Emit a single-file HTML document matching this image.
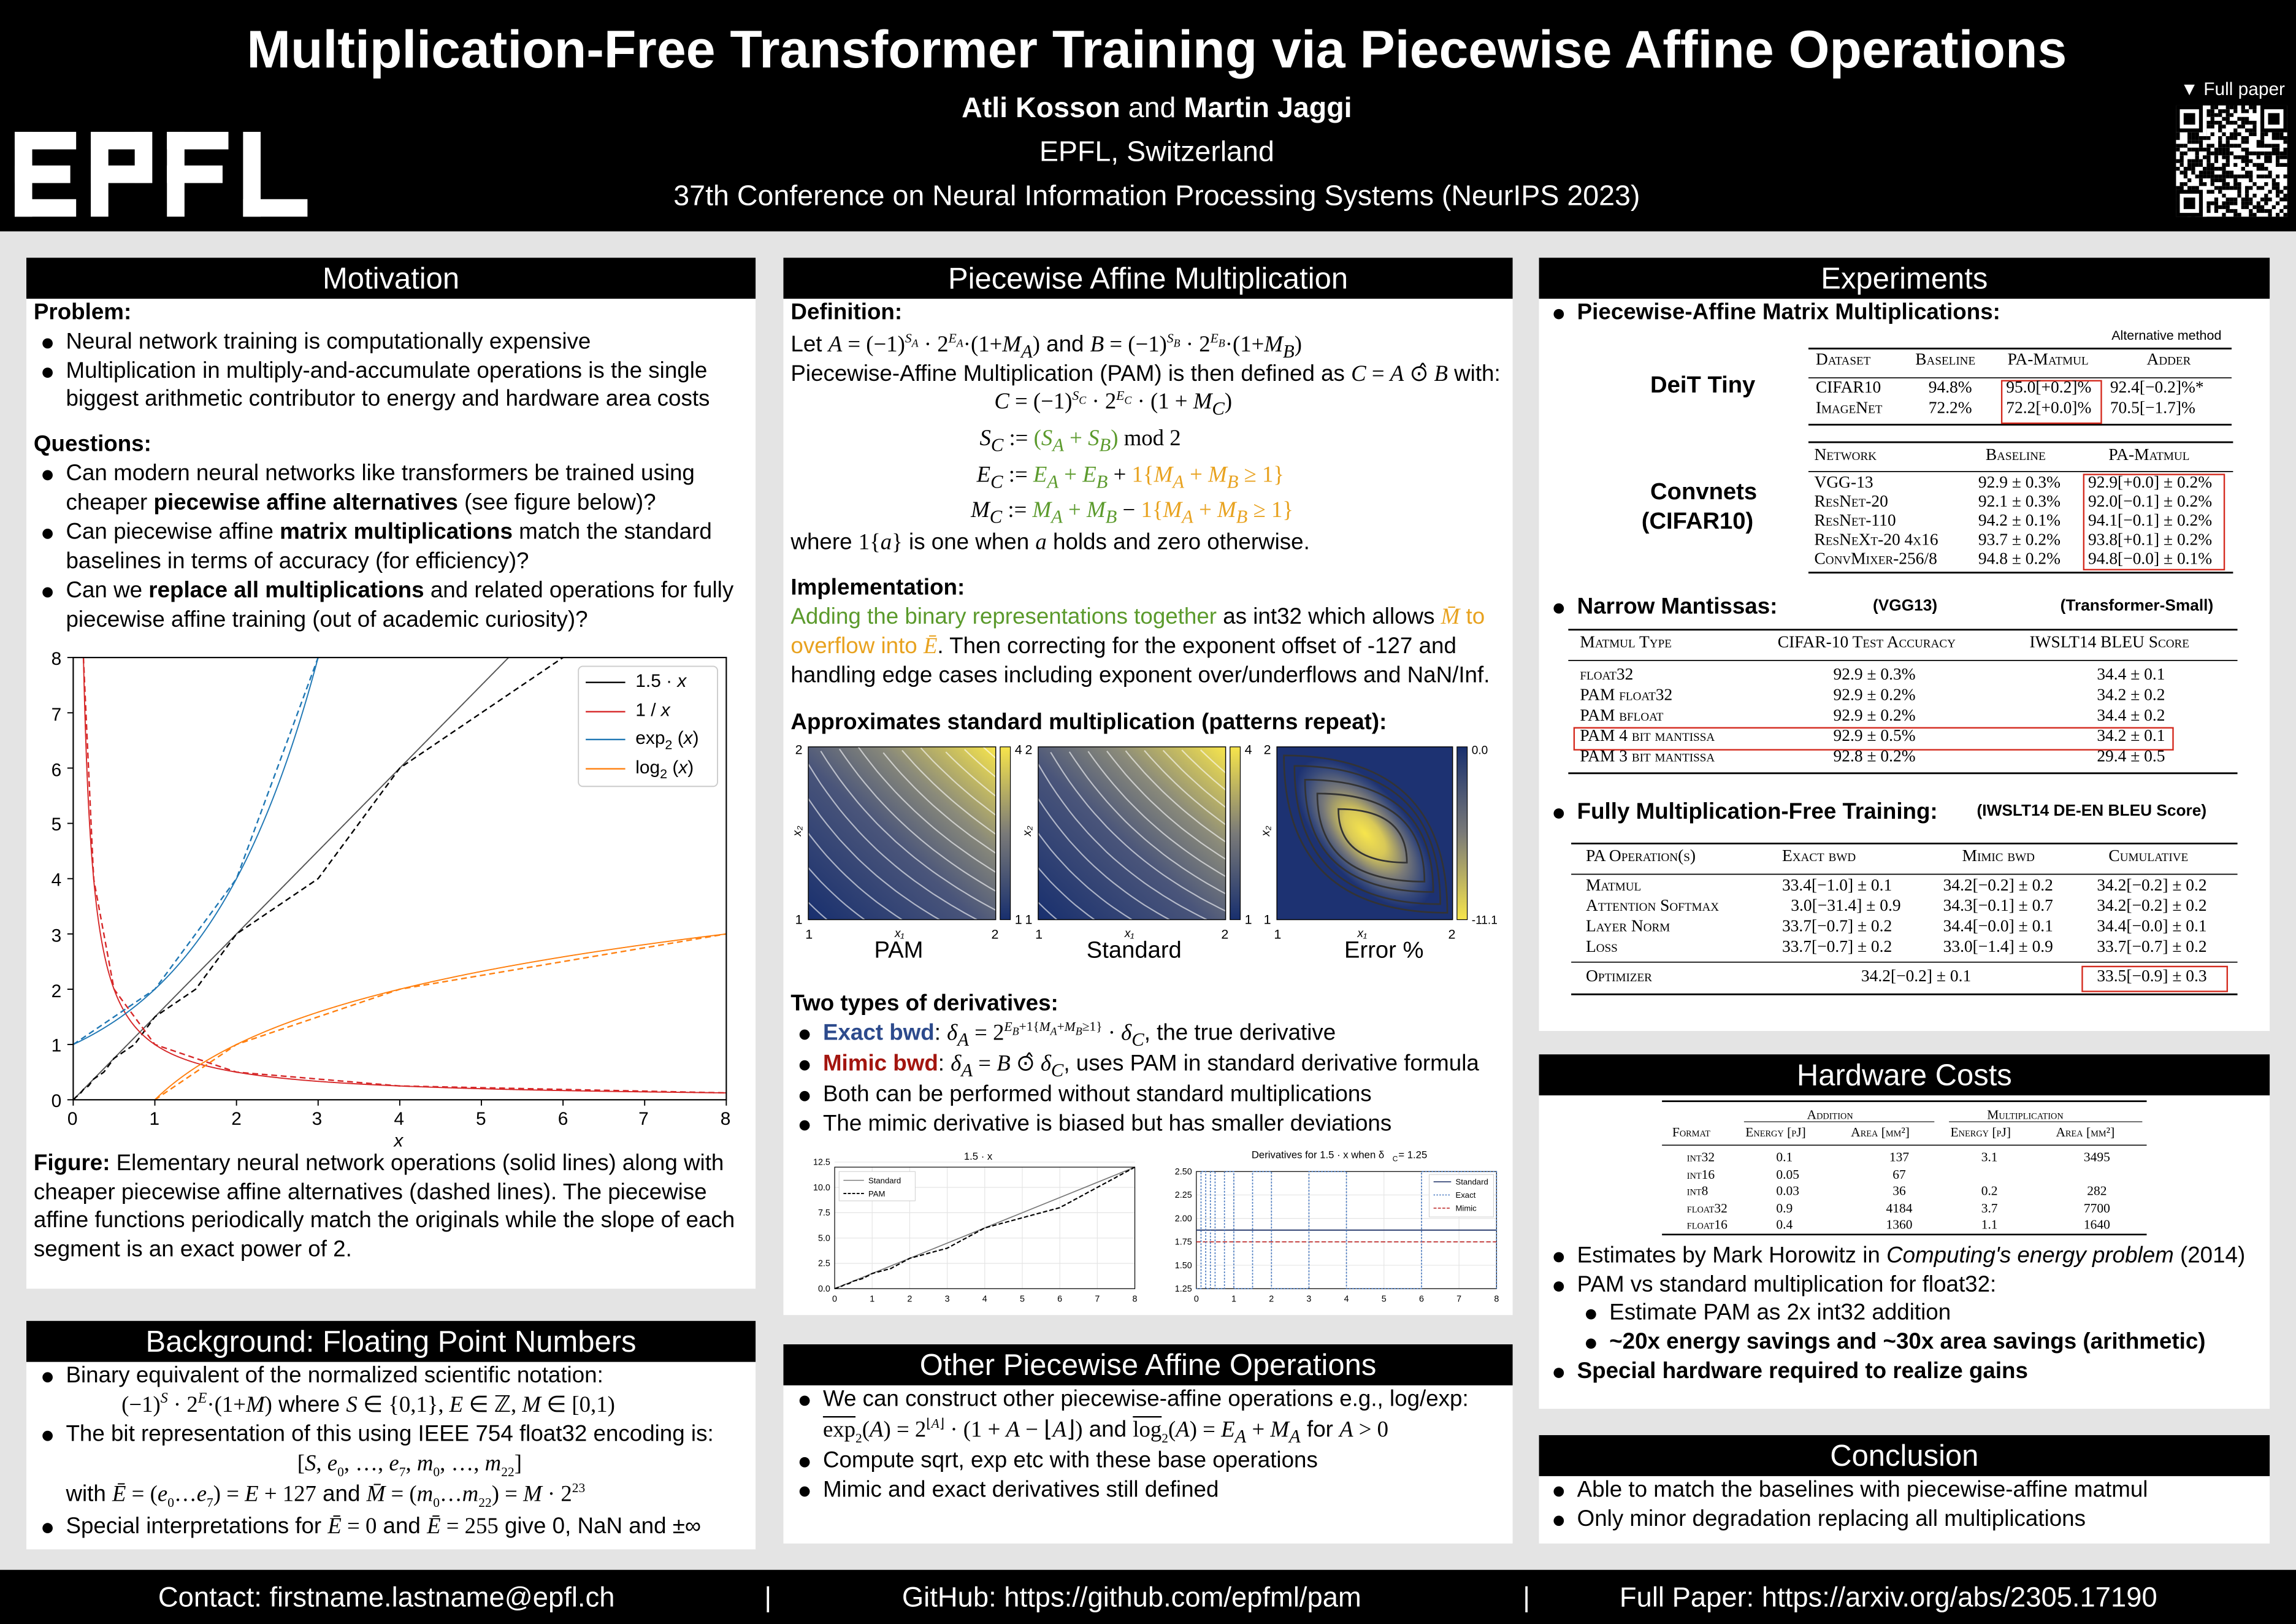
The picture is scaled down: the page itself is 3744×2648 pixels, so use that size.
<!DOCTYPE html>
<html><head><meta charset="utf-8">
<style>
html,body{margin:0;padding:0;}
body{width:3744px;height:2648px;overflow:hidden;background:#e4e4e4;}
#s{position:absolute;left:0;top:0;width:1568px;height:1109px;transform:scale(2.3878);transform-origin:0 0;font-family:"Liberation Sans",Arial,sans-serif;color:#000;}
.a{position:absolute;white-space:nowrap;}
.p{position:absolute;background:#fff;}
.h{position:absolute;left:0;right:0;top:0;height:28px;background:#000;color:#fff;font-size:20.5px;text-align:center;line-height:29px;}
.t{font-size:15.4px;line-height:20px;}
.b{font-weight:bold;}
.bl::before{content:"";position:absolute;left:-16px;top:7px;width:7px;height:7px;border-radius:50%;background:#000;}
.m{font-family:"Liberation Serif",serif;}
.i{font-style:italic;}
.sc{font-family:"Liberation Serif",serif;font-variant:small-caps;font-size:11.5px;}
.tn{font-family:"Liberation Serif",serif;font-size:11.5px;}
.g{color:#5b9a2c;}
.o{color:#e8a21f;}
.tk{font-size:12.5px;}
sup,sub{line-height:0;}
</style></head><body>
<div id="s">
<!-- header -->
<div class="a" style="left:0;top:0;width:1568px;height:158px;background:#000;"></div>
<div class="a b" style="left:0;width:1580px;top:13px;text-align:center;color:#fff;font-size:36px;">Multiplication-Free Transformer Training via Piecewise Affine Operations</div>
<div class="a" style="left:0;width:1580px;top:63px;text-align:center;color:#fff;font-size:19.5px;"><b>Atli Kosson</b> and <b>Martin Jaggi</b></div>
<div class="a" style="left:0;width:1580px;top:93px;text-align:center;color:#fff;font-size:19.5px;">EPFL, Switzerland</div>
<div class="a" style="left:0;width:1580px;top:123px;text-align:center;color:#fff;font-size:19.5px;">37th Conference on Neural Information Processing Systems (NeurIPS 2023)</div>
<svg class="a" style="left:10px;top:90px" width="200" height="58" viewBox="0 0 200 58">
<g fill="#fff">
<rect x="0" y="0" width="42" height="12"/><rect x="0" y="0" width="12" height="58"/><rect x="0" y="23" width="38" height="12"/><rect x="0" y="46" width="42" height="12"/>
<rect x="52" y="0" width="12" height="58"/><rect x="52" y="0" width="40" height="12"/><rect x="52" y="23" width="40" height="12"/><rect x="82" y="0" width="12" height="35"/>
<rect x="104" y="0" width="12" height="58"/><rect x="104" y="0" width="42" height="12"/><rect x="104" y="23" width="38" height="12"/>
<rect x="156" y="0" width="12" height="58"/><rect x="156" y="46" width="44" height="12"/>
</g></svg>
<div class="a" style="left:1489px;top:54px;color:#fff;font-size:12.5px;">▼ Full paper</div>
<svg class="a" id="qr" style="left:1486px;top:72px" width="76" height="76" viewBox="0 0 29 29"></svg>

<!-- footer -->
<div class="a" style="left:0;top:1072px;width:1568px;height:37px;background:#000;"></div>
<div class="a" style="left:108px;top:1081px;color:#fff;font-size:19px;">Contact: firstname.lastname@epfl.ch</div>
<div class="a" style="left:522px;top:1081px;color:#fff;font-size:19px;">|</div>
<div class="a" style="left:616px;top:1081px;color:#fff;font-size:19px;">GitHub: https://github.com/epfml/pam</div>
<div class="a" style="left:1040px;top:1081px;color:#fff;font-size:19px;">|</div>
<div class="a" style="left:1106px;top:1081px;color:#fff;font-size:19px;">Full Paper: https://arxiv.org/abs/2305.17190</div>

<!-- Motivation -->
<div class="p" style="left:18px;top:176px;width:498px;height:704px;">
<div class="h">Motivation</div>
<div class="a t b" style="left:5px;top:28px;">Problem:</div>
<div class="a t bl" style="left:27px;top:48px;">Neural network training is computationally expensive</div>
<div class="a t bl" style="left:27px;top:68px;">Multiplication in multiply-and-accumulate operations is the single</div>
<div class="a t" style="left:27px;top:87px;">biggest arithmetic contributor to energy and hardware area costs</div>
<div class="a t b" style="left:5px;top:118px;">Questions:</div>
<div class="a t bl" style="left:27px;top:138px;">Can modern neural networks like transformers be trained using</div>
<div class="a t" style="left:27px;top:158px;">cheaper <b>piecewise affine alternatives</b> (see figure below)?</div>
<div class="a t bl" style="left:27px;top:178px;">Can piecewise affine <b>matrix multiplications</b> match the standard</div>
<div class="a t" style="left:27px;top:198px;">baselines in terms of accuracy (for efficiency)?</div>
<div class="a t bl" style="left:27px;top:218px;">Can we <b>replace all multiplications</b> and related operations for fully</div>
<div class="a t" style="left:27px;top:238px;">piecewise affine training (out of academic curiosity)?</div>
<div class="a t" style="left:5px;top:609px;"><b>Figure:</b> Elementary neural network operations (solid lines) along with</div>
<div class="a t" style="left:5px;top:629px;">cheaper piecewise affine alternatives (dashed lines). The piecewise</div>
<div class="a t" style="left:5px;top:648px;">affine functions periodically match the originals while the slope of each</div>
<div class="a t" style="left:5px;top:668px;">segment is an exact power of 2.</div>
</div>
<!-- main chart -->
<svg class="a" id="mc" style="left:0;top:0" width="520" height="800"></svg>
<div class="a tk" style="left:35px;top:443px;">8</div><div class="a tk" style="left:35px;top:481px;">7</div><div class="a tk" style="left:35px;top:519px;">6</div><div class="a tk" style="left:35px;top:556px;">5</div><div class="a tk" style="left:35px;top:594px;">4</div><div class="a tk" style="left:35px;top:632px;">3</div><div class="a tk" style="left:35px;top:670px;">2</div><div class="a tk" style="left:35px;top:707px;">1</div><div class="a tk" style="left:35px;top:745px;">0</div>
<div class="a tk" style="left:46px;top:757px;">0</div><div class="a tk" style="left:102px;top:757px;">1</div><div class="a tk" style="left:158px;top:757px;">2</div><div class="a tk" style="left:213px;top:757px;">3</div><div class="a tk" style="left:269px;top:757px;">4</div><div class="a tk" style="left:325px;top:757px;">5</div><div class="a tk" style="left:381px;top:757px;">6</div><div class="a tk" style="left:436px;top:757px;">7</div><div class="a tk" style="left:492px;top:757px;">8</div>
<div class="a tk i" style="left:269px;top:772px;">x</div>
<div class="a tk" style="left:434px;top:458px;">1.5 · <i>x</i></div>
<div class="a tk" style="left:434px;top:478px;">1 / <i>x</i></div>
<div class="a tk" style="left:434px;top:497px;">exp<sub style="font-size:9px">2</sub> (<i>x</i>)</div>
<div class="a tk" style="left:434px;top:517px;">log<sub style="font-size:9px">2</sub> (<i>x</i>)</div>

<!-- Background -->
<div class="p" style="left:18px;top:902px;width:498px;height:156px;">
<div class="h">Background: Floating Point Numbers</div>
<div class="a t bl" style="left:27px;top:28px;">Binary equivalent of the normalized scientific notation:</div>
<div class="a t" style="left:65px;top:48px;"><span class="m">(−1)<sup style="font-size:10px"><i>S</i></sup> · 2<sup style="font-size:10px"><i>E</i></sup>·(1+<i>M</i>)</span> where <span class="m"><i>S</i> ∈ {0,1}, <i>E</i> ∈ ℤ, <i>M</i> ∈ [0,1)</span></div>
<div class="a t bl" style="left:27px;top:68px;">The bit representation of this using IEEE 754 float32 encoding is:</div>
<div class="a t m" style="left:185px;top:88px;">[<i>S</i>, <i>e</i><sub style="font-size:9px">0</sub>, …, <i>e</i><sub style="font-size:9px">7</sub>, <i>m</i><sub style="font-size:9px">0</sub>, …, <i>m</i><sub style="font-size:9px">22</sub>]</div>
<div class="a t" style="left:27px;top:109px;">with <span class="m"><i>Ē</i> = (<i>e</i><sub style="font-size:9px">0</sub>…<i>e</i><sub style="font-size:9px">7</sub>) = <i>E</i> + 127</span> and <span class="m"><i>M̄</i> = (<i>m</i><sub style="font-size:9px">0</sub>…<i>m</i><sub style="font-size:9px">22</sub>) = <i>M</i> · 2<sup style="font-size:9px">23</sup></span></div>
<div class="a t bl" style="left:27px;top:131px;">Special interpretations for <span class="m"><i>Ē</i> = 0</span> and <span class="m"><i>Ē</i> = 255</span> give 0, NaN and ±∞</div>
</div>

<!-- PAM -->
<div class="p" style="left:535px;top:176px;width:498px;height:722px;">
<div class="h">Piecewise Affine Multiplication</div>
<div class="a t b" style="left:5px;top:28px;">Definition:</div>
<div class="a t" style="left:5px;top:50px;">Let <span class="m"><i>A</i> = (−1)<sup style="font-size:9px"><i>S<sub>A</sub></i></sup> · 2<sup style="font-size:9px"><i>E<sub>A</sub></i></sup>·(1+<i>M<sub>A</sub></i>)</span> and <span class="m"><i>B</i> = (−1)<sup style="font-size:9px"><i>S<sub>B</sub></i></sup> · 2<sup style="font-size:9px"><i>E<sub>B</sub></i></sup>·(1+<i>M<sub>B</sub></i>)</span></div>
<div class="a t" style="left:5px;top:70px;">Piecewise-Affine Multiplication (PAM) is then defined as <span class="m"><i>C</i> = <i>A</i> ⊙̂ <i>B</i></span> with:</div>
<div class="a t m" style="left:144px;top:89px;"><i>C</i> = (−1)<sup style="font-size:9px"><i>S<sub>C</sub></i></sup> · 2<sup style="font-size:9px"><i>E<sub>C</sub></i></sup> · (1 + <i>M<sub>C</sub></i>)</div>
<div class="a t m" style="left:134px;top:114px;"><i>S<sub>C</sub></i> := <span class="g">(<i>S<sub>A</sub></i> + <i>S<sub>B</sub></i>)</span> mod 2</div>
<div class="a t m" style="left:132px;top:139px;"><i>E<sub>C</sub></i> := <span class="g"><i>E<sub>A</sub></i> + <i>E<sub>B</sub></i></span> + <span class="o">1{<i>M<sub>A</sub></i> + <i>M<sub>B</sub></i> ≥ 1}</span></div>
<div class="a t m" style="left:128px;top:163px;"><i>M<sub>C</sub></i> := <span class="g"><i>M<sub>A</sub></i> + <i>M<sub>B</sub></i></span> − <span class="o">1{<i>M<sub>A</sub></i> + <i>M<sub>B</sub></i> ≥ 1}</span></div>
<div class="a t" style="left:5px;top:185px;">where <span class="m">1{<i>a</i>}</span> is one when <span class="m"><i>a</i></span> holds and zero otherwise.</div>
<div class="a t b" style="left:5px;top:216px;">Implementation:</div>
<div class="a t" style="left:5px;top:236px;"><span class="g">Adding the binary representations together</span> as int32 which allows <span class="o m"><i>M̄</i></span> <span class="o">to</span></div>
<div class="a t" style="left:5px;top:256px;"><span class="o">overflow into <span class="m"><i>Ē</i></span></span>. Then correcting for the exponent offset of -127 and</div>
<div class="a t" style="left:5px;top:276px;">handling edge cases including exponent over/underflows and NaN/Inf.</div>
<div class="a t b" style="left:5px;top:308px;">Approximates standard multiplication (patterns repeat):</div>
<div class="a" style="left:62px;top:465px;font-size:16px;">PAM</div>
<div class="a" style="left:207px;top:465px;font-size:16px;">Standard</div>
<div class="a" style="left:383px;top:465px;font-size:16px;">Error %</div>
<div class="a t b" style="left:5px;top:500px;">Two types of derivatives:</div>
<div class="a t bl" style="left:27px;top:520px;"><b style="color:#2c4a8c">Exact bwd</b>: <span class="m"><i>δ<sub>A</sub></i> = 2<sup style="font-size:9px"><i>E<sub>B</sub></i>+1{<i>M<sub>A</sub></i>+<i>M<sub>B</sub></i>≥1}</sup> · <i>δ<sub>C</sub></i></span>, the true derivative</div>
<div class="a t bl" style="left:27px;top:541px;"><b style="color:#a3150f">Mimic bwd</b>: <span class="m"><i>δ<sub>A</sub></i> = <i>B</i> ⊙̂ <i>δ<sub>C</sub></i></span>, uses PAM in standard derivative formula</div>
<div class="a t bl" style="left:27px;top:562px;">Both can be performed without standard multiplications</div>
<div class="a t bl" style="left:27px;top:582px;">The mimic derivative is biased but has smaller deviations</div>
</div>
<svg class="a" id="hm" style="left:535px;top:500px" width="498" height="150"></svg>
<svg class="a" id="sp" style="left:535px;top:780px" width="498" height="115"></svg>

<!-- Other PA ops -->
<div class="p" style="left:535px;top:918px;width:498px;height:136px;">
<div class="h">Other Piecewise Affine Operations</div>
<div class="a t bl" style="left:27px;top:28px;">We can construct other piecewise-affine operations e.g., log/exp:</div>
<div class="a t" style="left:27px;top:49px;"><span class="m"><span style="text-decoration:overline">exp</span><sub style="font-size:9px">2</sub>(<i>A</i>) = 2<sup style="font-size:9px">⌊<i>A</i>⌋</sup> · (1 + <i>A</i> − ⌊<i>A</i>⌋)</span> and <span class="m"><span style="text-decoration:overline">log</span><sub style="font-size:9px">2</sub>(<i>A</i>) = <i>E<sub>A</sub></i> + <i>M<sub>A</sub></i></span> for <span class="m"><i>A</i> &gt; 0</span></div>
<div class="a t bl" style="left:27px;top:70px;">Compute sqrt, exp etc with these base operations</div>
<div class="a t bl" style="left:27px;top:90px;">Mimic and exact derivatives still defined</div>
</div>

<!-- Experiments -->
<div class="p" style="left:1051px;top:176px;width:499px;height:528px;">
<div class="h">Experiments</div>
<div class="a t b bl" style="left:26px;top:28px;">Piecewise-Affine Matrix Multiplications:</div>
<div class="a" style="left:391px;top:48px;font-size:9px;">Alternative method</div>
<div class="a b" style="left:76px;top:79px;font-size:16px;">DeiT Tiny</div>
<div class="a b" style="left:76px;top:152px;font-size:16px;">Convnets</div>
<div class="a b" style="left:70px;top:172px;font-size:16px;">(CIFAR10)</div>
<div class="a b t bl" style="left:26px;top:229px;">Narrow Mantissas:</div>
<div class="a b" style="left:228px;top:232px;font-size:11px;">(VGG13)</div>
<div class="a b" style="left:356px;top:232px;font-size:11px;">(Transformer-Small)</div>
<div class="a b t bl" style="left:26px;top:369px;">Fully Multiplication-Free Training:</div>
<div class="a b" style="left:299px;top:372px;font-size:11px;">(IWSLT14 DE-EN BLEU Score)</div>
</div>
<svg class="a" id="tl" style="left:1051px;top:176px" width="499" height="528">
<g stroke="#000" stroke-width="1.2">
<line x1="184" y1="62" x2="473" y2="62"/><line x1="184" y1="82" x2="473" y2="82" stroke-width=".7"/><line x1="184" y1="114" x2="473" y2="114"/>
<line x1="184" y1="126" x2="474" y2="126"/><line x1="184" y1="146" x2="474" y2="146" stroke-width=".7"/><line x1="184" y1="215" x2="474" y2="215"/>
<line x1="20" y1="254" x2="477" y2="254"/><line x1="20" y1="275" x2="477" y2="275" stroke-width=".7"/><line x1="20" y1="352" x2="477" y2="352"/>
<line x1="22" y1="400" x2="477" y2="400"/><line x1="22" y1="421" x2="477" y2="421" stroke-width=".7"/><line x1="22" y1="481" x2="477" y2="481" stroke-width=".7"/><line x1="22" y1="503" x2="477" y2="503"/>
</g>
<g stroke="#d42a1e" stroke-width="1" fill="none">
<rect x="316" y="84" width="68" height="29"/>
<rect x="372" y="148" width="96" height="65"/>
<rect x="24" y="321" width="409" height="15"/>
<rect x="371" y="484" width="99" height="17"/>
</g>
</svg>
<!-- table 1 -->
<div class="a sc" style="left:1240px;top:240px;">Dataset</div>
<div class="a sc" style="left:1308px;top:240px;">Baseline</div>
<div class="a sc" style="left:1371px;top:240px;">PA-Matmul</div>
<div class="a sc" style="left:1466px;top:240px;">Adder</div>
<div class="a tn" style="left:1240px;top:259px;">CIFAR10</div><div class="a tn" style="left:1317px;top:259px;">94.8%</div><div class="a tn" style="left:1370px;top:259px;">95.0[+0.2]%</div><div class="a tn" style="left:1441px;top:259px;">92.4[−0.2]%*</div>
<div class="a sc" style="left:1240px;top:273px;">ImageNet</div><div class="a tn" style="left:1317px;top:273px;">72.2%</div><div class="a tn" style="left:1370px;top:273px;">72.2[+0.0]%</div><div class="a tn" style="left:1441px;top:273px;">70.5[−1.7]%</div>
<!-- table 2 -->
<div class="a sc" style="left:1239px;top:305px;">Network</div><div class="a sc" style="left:1356px;top:305px;">Baseline</div><div class="a sc" style="left:1440px;top:305px;">PA-Matmul</div>
<div class="a tn" style="left:1239px;top:324px;">VGG-13</div><div class="a tn" style="left:1351px;top:324px;">92.9 ± 0.3%</div><div class="a tn" style="left:1426px;top:324px;">92.9[+0.0] ± 0.2%</div>
<div class="a sc" style="left:1239px;top:337px;">ResNet-20</div><div class="a tn" style="left:1351px;top:337px;">92.1 ± 0.3%</div><div class="a tn" style="left:1426px;top:337px;">92.0[−0.1] ± 0.2%</div>
<div class="a sc" style="left:1239px;top:350px;">ResNet-110</div><div class="a tn" style="left:1351px;top:350px;">94.2 ± 0.1%</div><div class="a tn" style="left:1426px;top:350px;">94.1[−0.1] ± 0.2%</div>
<div class="a sc" style="left:1239px;top:363px;">ResNeXt-20 4x16</div><div class="a tn" style="left:1351px;top:363px;">93.7 ± 0.2%</div><div class="a tn" style="left:1426px;top:363px;">93.8[+0.1] ± 0.2%</div>
<div class="a sc" style="left:1239px;top:376px;">ConvMixer-256/8</div><div class="a tn" style="left:1351px;top:376px;">94.8 ± 0.2%</div><div class="a tn" style="left:1426px;top:376px;">94.8[−0.0] ± 0.1%</div>
<!-- table 3 -->
<div class="a sc" style="left:1079px;top:433px;">Matmul Type</div><div class="a sc" style="left:1214px;top:433px;">CIFAR-10 Test Accuracy</div><div class="a sc" style="left:1386px;top:433px;">IWSLT14 BLEU Score</div>
<div class="a sc" style="left:1079px;top:455px;">float32</div><div class="a tn" style="left:1252px;top:455px;">92.9 ± 0.3%</div><div class="a tn" style="left:1432px;top:455px;">34.4 ± 0.1</div>
<div class="a sc" style="left:1079px;top:469px;">PAM float32</div><div class="a tn" style="left:1252px;top:469px;">92.9 ± 0.2%</div><div class="a tn" style="left:1432px;top:469px;">34.2 ± 0.2</div>
<div class="a sc" style="left:1079px;top:483px;">PAM bfloat</div><div class="a tn" style="left:1252px;top:483px;">92.9 ± 0.2%</div><div class="a tn" style="left:1432px;top:483px;">34.4 ± 0.2</div>
<div class="a sc" style="left:1079px;top:497px;">PAM 4 bit mantissa</div><div class="a tn" style="left:1252px;top:497px;">92.9 ± 0.5%</div><div class="a tn" style="left:1432px;top:497px;">34.2 ± 0.1</div>
<div class="a sc" style="left:1079px;top:511px;">PAM 3 bit mantissa</div><div class="a tn" style="left:1252px;top:511px;">92.8 ± 0.2%</div><div class="a tn" style="left:1432px;top:511px;">29.4 ± 0.5</div>
<!-- table 4 -->
<div class="a sc" style="left:1083px;top:579px;">PA Operation(s)</div><div class="a sc" style="left:1217px;top:579px;">Exact bwd</div><div class="a sc" style="left:1340px;top:579px;">Mimic bwd</div><div class="a sc" style="left:1440px;top:579px;">Cumulative</div>
<div class="a sc" style="left:1083px;top:599px;">Matmul</div><div class="a tn" style="left:1217px;top:599px;">33.4[−1.0] ± 0.1</div><div class="a tn" style="left:1327px;top:599px;">34.2[−0.2] ± 0.2</div><div class="a tn" style="left:1432px;top:599px;">34.2[−0.2] ± 0.2</div>
<div class="a sc" style="left:1083px;top:613px;">Attention Softmax</div><div class="a tn" style="left:1223px;top:613px;">3.0[−31.4] ± 0.9</div><div class="a tn" style="left:1327px;top:613px;">34.3[−0.1] ± 0.7</div><div class="a tn" style="left:1432px;top:613px;">34.2[−0.2] ± 0.2</div>
<div class="a sc" style="left:1083px;top:627px;">Layer Norm</div><div class="a tn" style="left:1217px;top:627px;">33.7[−0.7] ± 0.2</div><div class="a tn" style="left:1327px;top:627px;">34.4[−0.0] ± 0.1</div><div class="a tn" style="left:1432px;top:627px;">34.4[−0.0] ± 0.1</div>
<div class="a sc" style="left:1083px;top:641px;">Loss</div><div class="a tn" style="left:1217px;top:641px;">33.7[−0.7] ± 0.2</div><div class="a tn" style="left:1327px;top:641px;">33.0[−1.4] ± 0.9</div><div class="a tn" style="left:1432px;top:641px;">33.7[−0.7] ± 0.2</div>
<div class="a sc" style="left:1083px;top:661px;">Optimizer</div><div class="a tn" style="left:1271px;top:661px;">34.2[−0.2] ± 0.1</div><div class="a tn" style="left:1432px;top:661px;">33.5[−0.9] ± 0.3</div>

<!-- Hardware -->
<div class="p" style="left:1051px;top:720px;width:499px;height:242px;">
<div class="h">Hardware Costs</div>
<div class="a t bl" style="left:26px;top:128px;">Estimates by Mark Horowitz in <i>Computing's energy problem</i> (2014)</div>
<div class="a t bl" style="left:26px;top:148px;">PAM vs standard multiplication for float32:</div>
<div class="a t bl" style="left:48px;top:167px;">Estimate PAM as 2x int32 addition</div>
<div class="a t b bl" style="left:48px;top:187px;">~20x energy savings and ~30x area savings (arithmetic)</div>
<div class="a t b bl" style="left:26px;top:207px;">Special hardware required to realize gains</div>
</div>
<svg class="a" style="left:1051px;top:720px" width="499" height="140">
<g stroke="#000"><line x1="84" y1="32" x2="415" y2="32" stroke-width="1.1"/><line x1="140" y1="46" x2="270" y2="46" stroke-width=".5"/><line x1="280" y1="46" x2="412" y2="46" stroke-width=".5"/><line x1="84" y1="62" x2="415" y2="62" stroke-width=".6"/><line x1="84" y1="123" x2="415" y2="123" stroke-width="1.1"/></g>
</svg>
<div class="a sc" style="left:1234px;top:756px;font-size:9px;">Addition</div><div class="a sc" style="left:1357px;top:756px;font-size:9px;">Multiplication</div>
<div class="a sc" style="left:1142px;top:768px;font-size:9px;">Format</div><div class="a sc" style="left:1192px;top:768px;font-size:9px;">Energy [pJ]</div><div class="a sc" style="left:1264px;top:768px;font-size:9px;">Area [μm²]</div><div class="a sc" style="left:1332px;top:768px;font-size:9px;">Energy [pJ]</div><div class="a sc" style="left:1404px;top:768px;font-size:9px;">Area [μm²]</div>
<div class="a tn" style="left:1152px;top:785px;font-size:9px;line-height:11.5px;font-variant:small-caps;">int32<br>int16<br>int8<br>float32<br>float16</div>
<div class="a tn" style="left:1213px;top:785px;font-size:9px;line-height:11.5px;">0.1<br>0.05<br>0.03<br>0.9<br>0.4</div>
<div class="a tn" style="left:1283px;top:785px;font-size:9px;line-height:11.5px;text-align:center;width:28px;">137<br>67<br>36<br>4184<br>1360</div>
<div class="a tn" style="left:1353px;top:785px;font-size:9px;line-height:11.5px;">3.1<br><br>0.2<br>3.7<br>1.1</div>
<div class="a tn" style="left:1418px;top:785px;font-size:9px;line-height:11.5px;text-align:center;width:28px;">3495<br><br>282<br>7700<br>1640</div>

<!-- Conclusion -->
<div class="p" style="left:1051px;top:980px;width:499px;height:74px;">
<div class="h">Conclusion</div>
<div class="a t bl" style="left:26px;top:28px;">Able to match the baselines with piecewise-affine matmul</div>
<div class="a t bl" style="left:26px;top:48px;">Only minor degradation replacing all multiplications</div>
</div>
</div>

<script>
const NS="http://www.w3.org/2000/svg";
function el(p,t,a){const e=document.createElementNS(NS,t);for(const k in a)e.setAttribute(k,a[k]);p.appendChild(e);return e;}
// QR
(function(){const q=document.getElementById('qr');el(q,'rect',{x:0,y:0,width:29,height:29,fill:'#fff'});let s=7;
function r(){s=(s*9301+49297)%233280;return s/233280;}
for(let y=0;y<29;y++)for(let x=0;x<29;x++){if(r()<0.5)el(q,'rect',{x:x,y:y,width:1,height:1,fill:'#000'});}
[[0,0],[22,0],[0,22]].forEach(([x,y])=>{el(q,'rect',{x:x,y:y,width:7,height:7,fill:'#000'});el(q,'rect',{x:x+1,y:y+1,width:5,height:5,fill:'#fff'});el(q,'rect',{x:x+2,y:y+2,width:3,height:3,fill:'#000'});el(q,'rect',{x:x+7>28?x-1:x+7,y:y,width:1,height:8,fill:'#fff'});});
})();
// main chart
(function(){const s=document.getElementById('mc');
const X=x=>50+x*55.75,Y=y=>751-y*37.75;
const cp=el(el(s,'defs',{}),'clipPath',{id:'c'});el(cp,'rect',{x:50,y:449,width:446,height:302});
function path(f,a,b,col,dash,w){let d='';const n=800;for(let i=0;i<=n;i++){const x=a+(b-a)*i/n;let y=f(x);if(!isFinite(y))continue;y=Math.min(y,20);d+=(d?'L':'M')+X(x).toFixed(2)+','+Y(y).toFixed(2);}
el(s,'path',{d:d,fill:'none',stroke:col,'stroke-width':w||1,'stroke-dasharray':dash?'4,2.5':'none','clip-path':'url(#c)'});}
function dec(x){const e=Math.floor(Math.log2(x));return [e,x/Math.pow(2,e)-1];}
function pam15(x){if(x<=0)return 0;const [e,m]=dec(x);const s=m+0.5;return s<1?Math.pow(2,e)*(1+s):Math.pow(2,e+1)*s;}
function rec(x){const [e,m]=dec(x);return Math.pow(2,-e)*(m==0?1:(1-m/2));}
path(x=>1.5*x,0,8,'#555',false,0.8);
path(pam15,0.001,8,'#000',true,1);
path(x=>1/x,0.12,8,'#d62728',false,0.8);
path(rec,0.125,8,'#d62728',true,1);
path(x=>Math.pow(2,x),0,3.1,'#1f77b4',false,0.8);
path(x=>{const f=Math.floor(x);return Math.pow(2,f)*(1+x-f);},0,3.1,'#1f77b4',true,1);
path(x=>Math.log2(x),1,8,'#ff7f0e',false,0.8);
path(x=>{const [e,m]=dec(x);return e+m;},1,8,'#ff7f0e',true,1);
el(s,'rect',{x:50,y:449,width:446,height:302,fill:'none',stroke:'#000','stroke-width':0.9});
for(let i=0;i<=8;i++){el(s,'line',{x1:X(i),y1:751,x2:X(i),y2:755,stroke:'#000','stroke-width':.8});el(s,'line',{x1:46,y1:Y(i),x2:50,y2:Y(i),stroke:'#000','stroke-width':.8});}
el(s,'rect',{x:395,y:455,width:95,height:82,rx:3,fill:'#fff',stroke:'#ccc','stroke-width':.8});
[['#000',466],['#d62728',486],['#1f77b4',505],['#ff7f0e',525]].forEach(([c,y])=>el(s,'line',{x1:400,y1:y,x2:427,y2:y,stroke:c,'stroke-width':1}));
})();
// heatmaps
(function(){const s=document.getElementById('hm');const d=el(s,'defs',{});
let g=el(d,'linearGradient',{id:'g1',x1:0,y1:1,x2:1,y2:0});
[['0','#182f6e'],['0.45','#4a557a'],['0.7','#8a8a7a'],['1','#f7e54c']].forEach(([o,c])=>el(g,'stop',{offset:o,'stop-color':c}));
let cb=el(d,'linearGradient',{id:'cb',x1:0,y1:1,x2:0,y2:0});
[['0','#182f6e'],['0.5','#7a7a78'],['1','#f7e54c']].forEach(([o,c])=>el(cb,'stop',{offset:o,'stop-color':c}));
let cb2=el(d,'linearGradient',{id:'cb2',x1:0,y1:0,x2:0,y2:1});
[['0','#182f6e'],['0.5','#7a7a78'],['1','#f7e54c']].forEach(([o,c])=>el(cb2,'stop',{offset:o,'stop-color':c}));
let rg=el(d,'radialGradient',{id:'rg',cx:0.5,cy:0.5,r:0.5,gradientTransform:'translate(0.5 0.5) rotate(50) scale(1.05 0.5) translate(-0.5 -0.5)'});
[['0','#f7e54c'],['0.3','#d8c858'],['0.6','#7a7a78'],['0.85','#384a7a'],['1','#1d3272']].forEach(([o,c])=>el(rg,'stop',{offset:o,'stop-color':c}));
const P=[[17,10,128],[174,10,128],[337,10,120]];
const top=10,h=118;
P.forEach(([x,_,w],k)=>{
 el(s,'rect',{x:x,y:top,width:w,height:h,fill:k<2?'#1d3272':'#1d3272'});
 el(s,'rect',{x:x,y:top,width:w,height:h,fill:k<2?'url(#g1)':'url(#rg)'});
 if(k==2){
  [[0.04,0.05,0.97,0.96],[0.1,0.11,0.93,0.91],[0.16,0.19,0.89,0.84],[0.23,0.27,0.84,0.78],[0.35,0.36,0.74,0.67]].forEach(([a,b,c,e])=>{
   const x0=x+a*w,y0=top+b*h,x1=x+c*w,y1=top+e*h;
   el(s,'path',{d:`M${x0},${y0} Q${x0},${y1} ${x1},${y1} Q${x1},${y0} ${x0},${y0}Z`,fill:'none',stroke:'#333','stroke-width':1.1});});
 } else {
  for(let i=0;i<14;i++){const c=1.1+i*0.2;const pts=[];for(let j=0;j<=30;j++){const x1=1+j/30;let x2;
   if(k==1)x2=c/x1; else x2=c+1-x1; if(k==0)x2=c/x1*0.9+0.1*(c+1-x1);
   if(x2<1||x2>2)continue;pts.push([x+(x1-1)*w,top+h-(x2-1)*h]);}
   if(pts.length>1)el(s,'path',{d:'M'+pts.map(p=>p.map(v=>v.toFixed(1)).join(',')).join('L'),fill:'none',stroke:'rgba(255,255,255,0.6)','stroke-width':0.9});}
 }
 el(s,'rect',{x:x,y:top,width:w,height:h,fill:'none',stroke:'#000','stroke-width':0.6});
 el(s,'rect',{x:x+w+3,y:top,width:7,height:h,fill:k<2?'url(#cb)':'url(#cb2)',stroke:'#000','stroke-width':.5});
 const tx=(t,xx,yy,sz)=>{const e=el(s,'text',{x:xx,y:yy,'font-size':sz||9,'font-family':'Liberation Sans, sans-serif'});e.textContent=t;};
 tx('2',x-9,top+5);tx('1',x-9,top+h+3);tx('1',x-2,top+h+13);tx('2',x+w-3,top+h+13);
 const t=el(s,'text',{x:x+w/2-5,y:top+h+12,'font-size':8,'font-family':'Liberation Sans, sans-serif','font-style':'italic'});t.textContent='x₁';
 const t2=el(s,'text',{x:x-10,y:top+h/2+3,'font-size':8,'font-family':'Liberation Sans, sans-serif','font-style':'italic',transform:`rotate(-90 ${x-8} ${top+h/2})`});t2.textContent='x₂';
 if(k<2){tx('4',x+w+13,top+5);tx('1',x+w+13,top+h+3);}else{tx('0.0',x+w+13,top+5,8);tx('-11.1',x+w+13,top+h+3,8);}
});
})();
// small plots
(function(){const s=document.getElementById('sp');const F='Liberation Sans, sans-serif';
const tx=(t,x,y,sz,a)=>{const e=el(s,'text',{x:x,y:y,'font-size':sz||6,'font-family':F,'text-anchor':a||'start'});e.textContent=t;};
const L=35,R=240,T=17,B=100;const X=v=>L+(v/8)*(R-L),Y=v=>B-(v/12)*(B-T);
for(let i=0;i<=8;i++){el(s,'line',{x1:X(i),y1:T,x2:X(i),y2:B,stroke:'#e5e5e5','stroke-width':.5});tx(String(i),X(i),B+9,6,'middle');}
[0,2.5,5,7.5,10,12.5].forEach(v=>{el(s,'line',{x1:L,y1:Y(v),x2:R,y2:Y(v),stroke:'#e5e5e5','stroke-width':.5});tx(v.toFixed(1),L-3,Y(v)+2,6,'end');});
el(s,'rect',{x:L,y:T,width:R-L,height:B-T,fill:'none',stroke:'#000','stroke-width':.5});
el(s,'line',{x1:X(0),y1:Y(0),x2:X(8),y2:Y(12),stroke:'#777','stroke-width':.7});
function pam15(x){if(x<=0)return 0;const e=Math.floor(Math.log2(x)),m=x/Math.pow(2,e)-1;const q=m+0.5;return q<1?Math.pow(2,e)*(1+q):Math.pow(2,e+1)*q;}
let d='';for(let i=0;i<=400;i++){const x=0.001+8*i/400;d+=(d?'L':'M')+X(x).toFixed(1)+','+Y(pam15(x)).toFixed(1);}
el(s,'path',{d:d,fill:'none',stroke:'#000','stroke-width':.9,'stroke-dasharray':'3,1.5'});
tx('1.5 · x',133,12,7,'middle');
el(s,'rect',{x:L+3,y:T+3,width:52,height:20,fill:'#fff',stroke:'#ccc','stroke-width':.4});
el(s,'line',{x1:L+6,y1:T+9,x2:L+20,y2:T+9,stroke:'#777','stroke-width':.6});tx('Standard',L+23,T+11,5.5);
el(s,'line',{x1:L+6,y1:T+18,x2:L+20,y2:T+18,stroke:'#000','stroke-width':.8,'stroke-dasharray':'2,1'});tx('PAM',L+23,T+20,5.5);
const L2=282,R2=487,T2=20,B2=100;const X2=v=>L2+(v/8)*(R2-L2),Y2=v=>B2-((v-1.25)/1.25)*(B2-T2);
for(let i=0;i<=8;i++){el(s,'line',{x1:X2(i),y1:T2,x2:X2(i),y2:B2,stroke:'#e5e5e5','stroke-width':.5});tx(String(i),X2(i),B2+9,6,'middle');}
[1.25,1.5,1.75,2,2.25,2.5].forEach(v=>{el(s,'line',{x1:L2,y1:Y2(v),x2:R2,y2:Y2(v),stroke:'#e5e5e5','stroke-width':.5});tx(v.toFixed(2),L2-3,Y2(v)+2,6,'end');});
el(s,'rect',{x:L2,y:T2,width:R2-L2,height:B2-T2,fill:'none',stroke:'#000','stroke-width':.5});
el(s,'line',{x1:L2,y1:Y2(1.875),x2:R2,y2:Y2(1.875),stroke:'#2c3e70','stroke-width':.8});
el(s,'line',{x1:L2,y1:Y2(1.75),x2:R2,y2:Y2(1.75),stroke:'#c03030','stroke-width':.7,'stroke-dasharray':'3,1.5'});
let e='M'+X2(0)+','+Y2(1.25);const br=[0,0.125,0.25,0.375,0.5,0.75,1,1.5,2,3,4,6,8];let hi=false;
for(let i=0;i<br.length-1;i++){const v=hi?2.5:1.25;e+='L'+X2(br[i]).toFixed(1)+','+Y2(v)+'L'+X2(br[i+1]).toFixed(1)+','+Y2(v);hi=!hi;const v2=hi?2.5:1.25;e+='L'+X2(br[i+1]).toFixed(1)+','+Y2(v2);}
el(s,'path',{d:e,fill:'none',stroke:'#4a7ac0','stroke-width':.7,'stroke-dasharray':'1.2,1'});
tx('Derivatives for 1.5 · x when δ',365,11,7,'middle');tx('C',416,13,5);tx('= 1.25',420,11,7);
el(s,'rect',{x:R2-46,y:T2+2,width:44,height:29,fill:'#fff',stroke:'#ccc','stroke-width':.4});
el(s,'line',{x1:R2-43,y1:T2+7,x2:R2-31,y2:T2+7,stroke:'#2c3e70','stroke-width':.7});tx('Standard',R2-28,T2+9,5.5);
el(s,'line',{x1:R2-43,y1:T2+16,x2:R2-31,y2:T2+16,stroke:'#4a7ac0','stroke-width':.7,'stroke-dasharray':'1,1'});tx('Exact',R2-28,T2+18,5.5);
el(s,'line',{x1:R2-43,y1:T2+25,x2:R2-31,y2:T2+25,stroke:'#c03030','stroke-width':.7,'stroke-dasharray':'2,1'});tx('Mimic',R2-28,T2+27,5.5);
})();
</script>
</body></html>
